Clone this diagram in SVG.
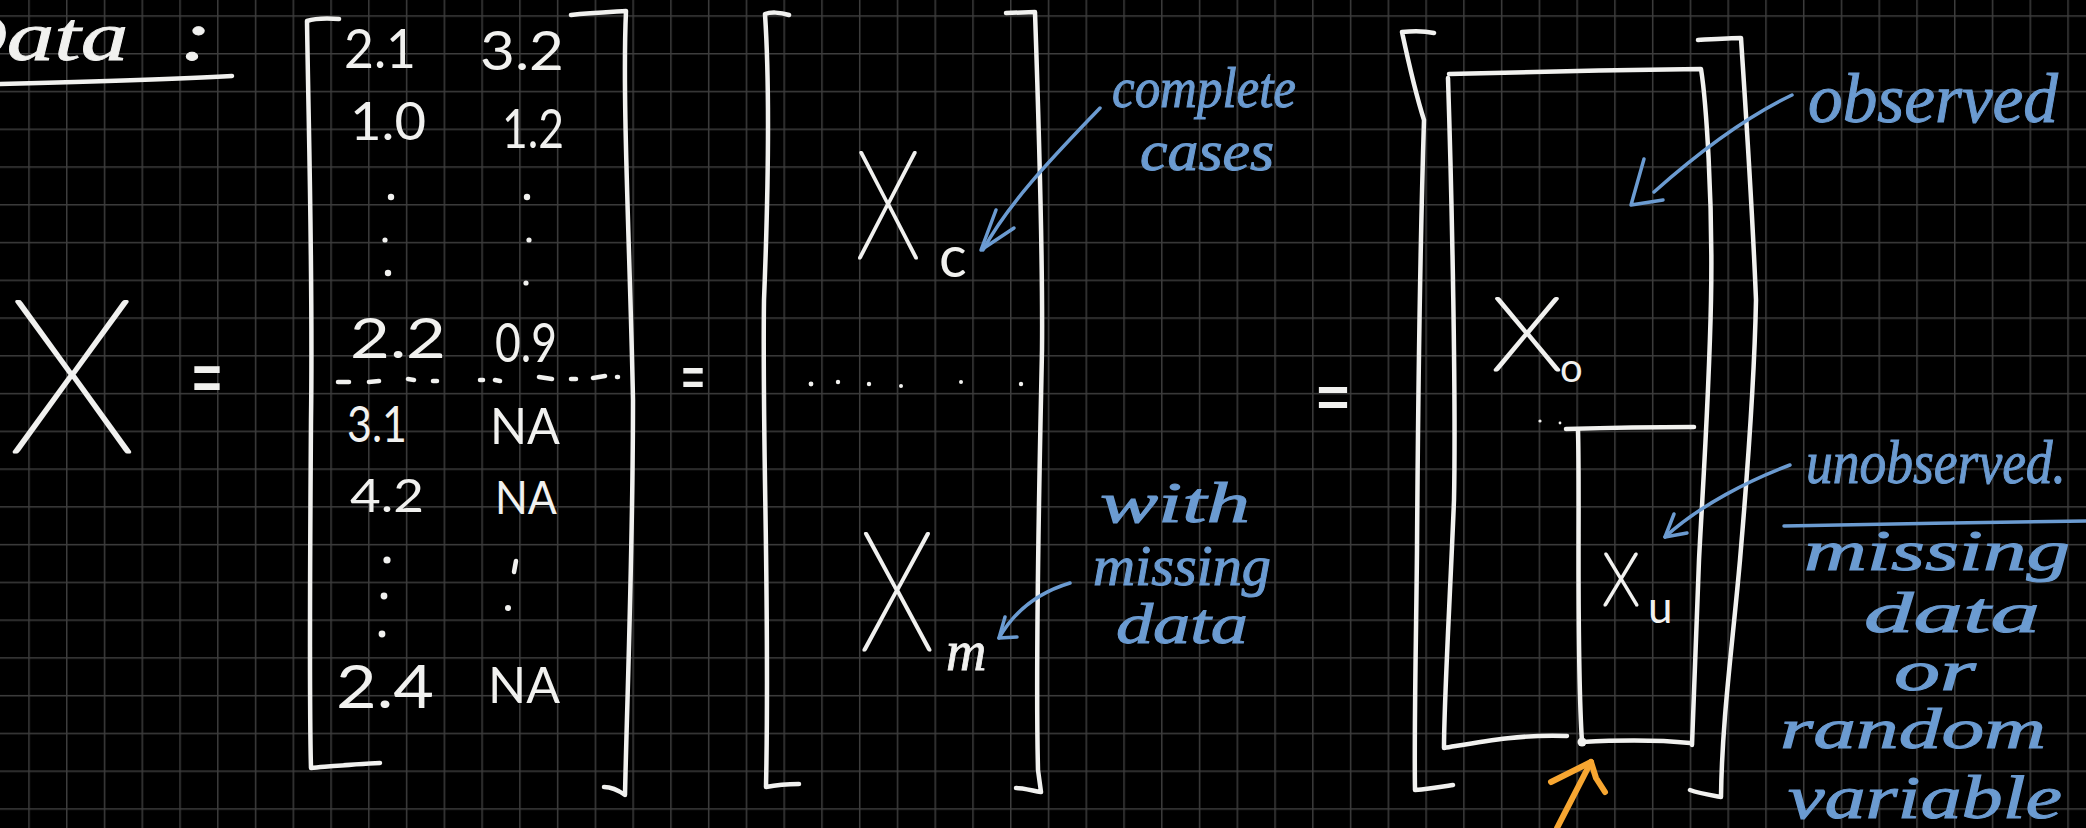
<svg xmlns="http://www.w3.org/2000/svg" width="2086" height="828" viewBox="0 0 2086 828">
  <defs>
    <pattern id="grid" x="28.25" y="15.25" width="37.76" height="37.76" patternUnits="userSpaceOnUse">
      <path d="M0 0.75H37.76M0.75 0V37.76" stroke="#3d3d3d" stroke-width="1.5" fill="none"/>
    </pattern>
    <style>
      .w { fill:#f1f1ef; font-family:"Lato","Roboto","Liberation Sans",sans-serif; font-weight:400; }
      .wx { fill:#f1f1ef; stroke:#f1f1ef; stroke-width:3; stroke-linejoin:round; font-family:"Lato","Roboto","Liberation Sans",sans-serif; font-weight:100; }
      .ws { fill:#f1f1ef; stroke:#f1f1ef; stroke-width:0.8; font-family:"Liberation Serif",serif; font-style:italic; }
      .b { fill:#6b9bd1; stroke:#6b9bd1; stroke-width:1; font-family:"Liberation Serif",serif; font-style:italic; }
      .s { stroke:#f1f1ef; stroke-width:4.5; fill:none; stroke-linecap:round; stroke-linejoin:round; }
      .bs { stroke:#6b9bd1; stroke-width:3.5; fill:none; stroke-linecap:round; stroke-linejoin:round; }
      .os { stroke:#f7a631; stroke-width:6; fill:none; stroke-linecap:round; stroke-linejoin:round; }
      .dot { fill:#f1f1ef; }
    </style>
  </defs>
  <rect width="2086" height="828" fill="#000"/>
  <rect width="2086" height="828" fill="url(#grid)"/>

  <g id="title">
    <text class="ws" x="-62" y="60" font-size="70" textLength="222" lengthAdjust="spacingAndGlyphs">Data<tspan x="180">:</tspan></text>
    <path class="s" d="M0,84 C80,82 160,80 232,76" stroke-width="4"/>
  </g>

  <g id="X">
    <text class="wx" x="8" y="452" font-size="214" textLength="128" lengthAdjust="spacingAndGlyphs">X</text>
  </g>
  <g id="eq1"><text class="w" x="190" y="412" font-size="100" textLength="34" lengthAdjust="spacingAndGlyphs">=</text></g>

  <g id="matrix-data">
    <path class="s" d="M339,19 C325,18 313,19 307,21 C309,150 313,280 311,420 C310,560 309,700 311,768 C335,766 355,764 380,763"/>
    <path class="s" d="M571,15 C590,13 610,12 626,11 C622,100 630,250 633,400 C633,550 627,700 625,795 C618,790 610,787 604,787"/>
    <text class="w" font-size="54" x="344" y="68" textLength="72" lengthAdjust="spacingAndGlyphs">2.1</text>
    <text class="w" font-size="54" x="480" y="70" textLength="84" lengthAdjust="spacingAndGlyphs">3.2</text>
    <text class="w" font-size="52" x="350" y="140" textLength="76" lengthAdjust="spacingAndGlyphs">1.0</text>
    <text class="w" font-size="54" x="502" y="148" textLength="62" lengthAdjust="spacingAndGlyphs">1.2</text>
    <text class="w" font-size="56" x="350" y="358" textLength="96" lengthAdjust="spacingAndGlyphs">2.2</text>
    <text class="w" font-size="54" x="495" y="362" textLength="62" lengthAdjust="spacingAndGlyphs">0.9</text>
    <text class="w" font-size="50" x="347" y="442" textLength="60" lengthAdjust="spacingAndGlyphs">3.1</text>
    <text class="w" font-size="50" x="490" y="444" textLength="70" lengthAdjust="spacingAndGlyphs">NA</text>
    <text class="w" font-size="46" x="350" y="512" textLength="74" lengthAdjust="spacingAndGlyphs">4.2</text>
    <text class="w" font-size="46" x="495" y="514" textLength="62" lengthAdjust="spacingAndGlyphs">NA</text>
    <text class="w" font-size="60" x="336" y="708" textLength="98" lengthAdjust="spacingAndGlyphs">2.4</text>
    <text class="w" font-size="50" x="488" y="703" textLength="72" lengthAdjust="spacingAndGlyphs">NA</text>
    <circle class="dot" cx="391" cy="197" r="3.2"/>
    <circle class="dot" cx="385" cy="240" r="2.6"/>
    <circle class="dot" cx="388" cy="273" r="3.2"/>
    <circle class="dot" cx="527" cy="197" r="3.2"/>
    <circle class="dot" cx="529" cy="240" r="2.6"/>
    <circle class="dot" cx="526" cy="283" r="2.6"/>
    <circle class="dot" cx="387" cy="560" r="3.6"/>
    <circle class="dot" cx="384" cy="596" r="3.4"/>
    <circle class="dot" cx="382" cy="634" r="3.4"/>
    <path class="s" d="M516,561 L514,572" stroke-width="4"/>
    <circle class="dot" cx="508" cy="608" r="3"/>
    <path class="s" stroke-width="3" d="M338,382 L349,382 M369,382 L379,381 M408,379 L414,380 M433,381 L437,381 M480,380 L483,380 M495,380 L500,381 M539,377 L552,379 M571,379 L576,379 M593,378 L605,376 M617,377 L618,377"/>
  </g>

  <g id="eq2"><text class="w" x="680" y="405" font-size="80" textLength="26" lengthAdjust="spacingAndGlyphs">=</text></g>

  <g id="matrix-split">
    <path class="s" d="M789,15 C780,12 770,12 765,14 C768,60 770,150 764,300 C762,450 770,600 766,787 C776,785 790,784 799,784"/>
    <path class="s" d="M1006,13 L1035,12 C1038,100 1043,250 1042,350 C1040,450 1035,650 1038,770 L1041,792 C1030,790 1022,788 1016,788"/>
    <text class="wx" x="856" y="258" font-size="150" textLength="64" lengthAdjust="spacingAndGlyphs">X</text>
    <text class="w" x="939" y="277" font-size="58">c</text>
    <text class="wx" x="860" y="650" font-size="166" textLength="74" lengthAdjust="spacingAndGlyphs">X</text>
    <text class="ws" x="946" y="670" font-size="56">m</text>
    <circle class="dot" cx="811" cy="384" r="2.4"/>
    <circle class="dot" cx="838" cy="382" r="2.2"/>
    <circle class="dot" cx="869" cy="384" r="2.2"/>
    <circle class="dot" cx="901" cy="386" r="2"/>
    <circle class="dot" cx="961" cy="382" r="2"/>
    <circle class="dot" cx="1021" cy="384" r="2.2"/>
  </g>

  <g id="label-complete">
    <text class="b" x="1112" y="107" font-size="56" textLength="184" lengthAdjust="spacingAndGlyphs">complete</text>
    <text class="b" x="1140" y="170" font-size="56" textLength="134" lengthAdjust="spacingAndGlyphs">cases</text>
  </g>
  <g id="label-with-missing">
    <text class="b" x="1100" y="522" font-size="56" textLength="150" lengthAdjust="spacingAndGlyphs">with</text>
    <text class="b" x="1093" y="585" font-size="56" textLength="178" lengthAdjust="spacingAndGlyphs">missing</text>
    <text class="b" x="1116" y="643" font-size="56" textLength="132" lengthAdjust="spacingAndGlyphs">data</text>
  </g>

  <g id="eq3"><text class="w" x="1314" y="428" font-size="90" textLength="38" lengthAdjust="spacingAndGlyphs">=</text></g>

  <g id="matrix-partition">
    <path class="s" d="M1434,33 C1425,31 1412,31 1402,32 C1408,60 1416,95 1424,120 C1420,250 1418,400 1417,550 C1416,650 1414,730 1415,790 C1428,789 1440,787 1453,785"/>
    <path class="s" d="M1698,40 C1715,39 1730,38 1741,38 C1745,100 1752,200 1756,300 C1754,400 1745,500 1740,560 C1732,650 1722,720 1721,797 C1710,795 1698,793 1690,790"/>
    <path class="s" d="M1449,74 C1520,72 1620,70 1701,69 C1706,100 1713,200 1711,300 C1709,400 1702,500 1699,560 C1696,650 1694,700 1692,745"/>
    <path class="s" d="M1448,78 C1452,200 1456,400 1454,500 C1450,600 1444,700 1444,748 C1480,742 1520,734 1567,736"/>
    <path class="s" d="M1566,429 C1600,428 1650,427 1694,427"/>
    <path class="s" d="M1578,430 C1580,500 1576,650 1582,742 C1620,740 1660,740 1690,743"/>
    <circle class="dot" cx="1582" cy="742" r="4.5"/>
    <circle class="dot" cx="1540" cy="421" r="1.6"/>
    <circle class="dot" cx="1560" cy="423" r="1.4"/>
    <text class="wx" x="1492" y="370" font-size="102" textLength="70" lengthAdjust="spacingAndGlyphs">X</text>
    <text class="w" x="1560" y="382" font-size="40">o</text>
    <text class="wx" x="1603" y="605" font-size="72" textLength="36" lengthAdjust="spacingAndGlyphs">X</text>
    <text class="w" x="1648" y="623" font-size="44">u</text>
  </g>

  <g id="label-observed">
    <text class="b" x="1808" y="122" font-size="70" textLength="250" lengthAdjust="spacingAndGlyphs">observed</text>
  </g>
  <g id="label-unobserved">
    <text class="b" x="1806" y="483" font-size="62" textLength="260" lengthAdjust="spacingAndGlyphs">unobserved.</text>
    <path class="bs" stroke-width="5" d="M1784,526 C1880,524 1990,522 2086,521"/>
    <text class="b" x="1804" y="570" font-size="58" textLength="266" lengthAdjust="spacingAndGlyphs">missing</text>
    <text class="b" x="1864" y="632" font-size="58" textLength="176" lengthAdjust="spacingAndGlyphs">data</text>
    <text class="b" x="1894" y="690" font-size="56" textLength="82" lengthAdjust="spacingAndGlyphs">or</text>
    <text class="b" x="1780" y="748" font-size="58" textLength="266" lengthAdjust="spacingAndGlyphs">random</text>
    <text class="b" x="1788" y="818" font-size="62" textLength="274" lengthAdjust="spacingAndGlyphs">variable</text>
  </g>

  <g id="connectors">
    <path class="bs" d="M1100,108 C1060,150 1010,200 983,250"/>
    <path class="bs" d="M996,210 L981,250 L1014,228"/>
    <path class="bs" d="M1070,583 C1040,592 1015,610 999,638"/>
    <path class="bs" d="M1005,617 L999,638 L1017,637"/>
    <path class="bs" d="M1792,95 C1740,120 1690,160 1654,192"/>
    <path class="bs" d="M1644,159 L1631,205 L1663,200"/>
    <path class="bs" d="M1790,465 C1750,480 1700,505 1665,537"/>
    <path class="bs" d="M1674,514 L1665,537 L1687,533"/>
    <path class="os" d="M1557,828 L1591,762"/>
    <path class="os" d="M1551,782 L1591,762 L1596,778 L1605,792"/>
  </g>
</svg>
